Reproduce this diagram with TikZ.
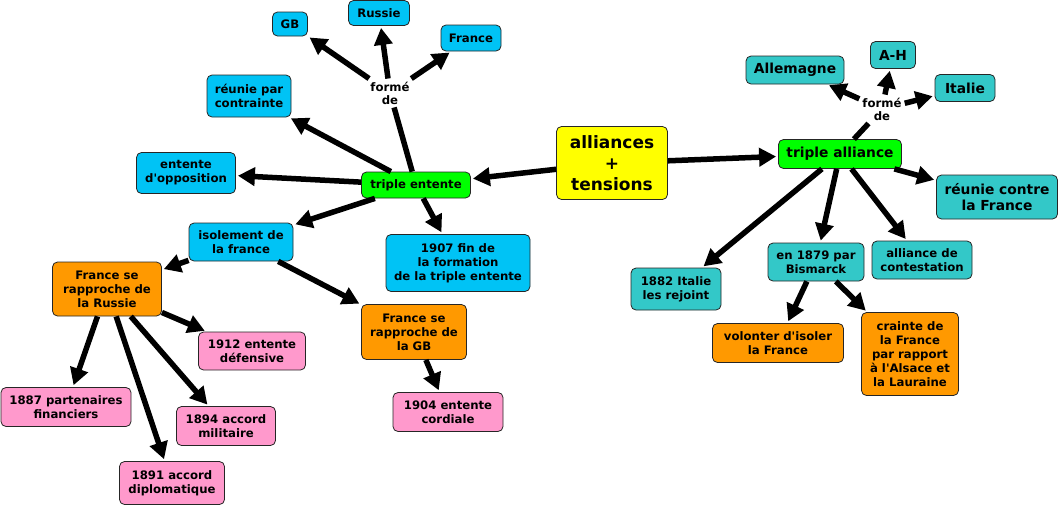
\documentclass[tikz,border=0pt]{standalone}
\usepackage{fontspec}
\setmainfont{DejaVu Sans}[Ligatures=TeXOff]
\usetikzlibrary{arrows.meta}
\definecolor{cblue}{RGB}{0,195,245}
\definecolor{cteal}{RGB}{51,200,200}
\definecolor{cgreen}{RGB}{0,255,0}
\definecolor{cyellow}{RGB}{255,255,0}
\definecolor{corange}{RGB}{255,153,0}
\definecolor{cpink}{RGB}{255,153,204}
\tikzset{
  box/.style={draw=black!85, line width=0.8pt, rounded corners=5pt, align=center,
    inner sep=1pt, font=\fontsize{11.7}{14}\selectfont\bfseries},
  big/.style={font=\fontsize{13.8}{16.5}\selectfont\bfseries},
  bl/.style={box, fill=cblue},
  tl/.style={box, fill=cteal},
  gr/.style={box, fill=cgreen},
  orr/.style={box, fill=corange},
  pk/.style={box, fill=cpink},
  lbl/.style={align=center, inner sep=3pt, font=\fontsize{11.7}{13}\selectfont\bfseries},
  arr/.style={line width=5.5pt, -{Triangle[length=17pt,width=18pt]}, shorten >=2pt},
  ln/.style={line width=5.5pt},
}
\begin{document}
\begin{tikzpicture}[x=1pt,y=-1pt]
\useasboundingbox (0,0) rectangle (1061,507);
% center
\node[box, fill=cyellow, minimum width=111pt, minimum height=73pt, font=\fontsize{17}{21}\selectfont\bfseries] (at) at (612,163) {alliances\\+\\tensions};
% left part
\node[gr, minimum width=109pt, minimum height=26pt] (te) at (416,185) {triple entente};
\node[bl, minimum width=35pt, minimum height=24pt] (gb) at (290,24) {GB};
\node[bl, minimum width=61pt, minimum height=25pt] (russie) at (379,13) {Russie};
\node[bl, minimum width=60pt, minimum height=26pt] (francetop) at (471,38) {France};
\node[lbl] (forme1) at (390,93) {formé\\de};
\node[bl, minimum width=84pt, minimum height=42pt] (reunie) at (249,96) {réunie par\\contrainte};
\node[bl, minimum width=99pt, minimum height=41pt] (opposition) at (186,173) {entente\\d'opposition};
\node[bl, minimum width=104pt, minimum height=38pt] (isolement) at (241,242) {isolement de\\la france};
\node[bl, minimum width=144pt, minimum height=57pt] (f1907) at (458,263) {1907 fin de\\la formation\\de la triple entente};
\node[orr, minimum width=109pt, minimum height=54pt] (frrussie) at (107,289) {France se\\rapproche de\\la Russie};
\node[orr, minimum width=105pt, minimum height=55pt] (frgb) at (414,332) {France se\\rapproche de\\la GB};
\node[pk, minimum width=107pt, minimum height=38pt] (e1912) at (252,351) {1912 entente\\défensive};
\node[pk, minimum width=130pt, minimum height=39pt] (p1887) at (66,407) {1887 partenaires\\financiers};
\node[pk, minimum width=99pt, minimum height=39pt] (a1894) at (226,426) {1894 accord\\militaire};
\node[pk, minimum width=105pt, minimum height=43pt] (a1891) at (172,483) {1891 accord\\diplomatique};
\node[pk, minimum width=110pt, minimum height=39pt] (c1904) at (448,412) {1904 entente\\cordiale};
% right part
\node[gr, big, minimum width=123pt, minimum height=29pt] (ta) at (840,154) {triple alliance};
\node[tl, big, minimum width=98pt, minimum height=28pt] (allemagne) at (795,70) {Allemagne};
\node[tl, big, minimum width=45pt, minimum height=27pt] (ah) at (893,55) {A-H};
\node[tl, big, minimum width=60pt, minimum height=27pt] (italie) at (965,88) {Italie};
\node[lbl] (forme2) at (882,109) {formé\\de};
\node[tl, big, minimum width=121pt, minimum height=44pt] (reuniecontre) at (997,197) {réunie contre\\la France};
\node[tl, minimum width=90pt, minimum height=42pt] (i1882) at (676,289) {1882 Italie\\les rejoint};
\node[tl, minimum width=96pt, minimum height=38pt] (bismarck) at (816,262) {en 1879 par\\Bismarck};
\node[tl, minimum width=100pt, minimum height=38pt] (contestation) at (922,260) {alliance de\\contestation};
\node[orr, minimum width=131pt, minimum height=39pt] (volonter) at (778,343) {volonter d'isoler\\la France};
\node[orr, minimum width=97pt, minimum height=83pt] (crainte) at (910,354) {crainte de\\la France\\par rapport\\à l'Alsace et\\la Lauraine};
% connectors
\draw[arr] (at) -- (te);
\draw[arr] (at) -- (ta);
\draw[ln] (te) -- (forme1);
\draw[arr] (forme1) -- (gb);
\draw[arr] (forme1) -- (russie);
\draw[arr] (forme1) -- (francetop);
\draw[arr] (te) -- (reunie);
\draw[arr] (te) -- (opposition);
\draw[arr] (te) -- (isolement);
\draw[arr] (te) -- (f1907);
\draw[arr] (isolement) -- (frrussie);
\draw[arr] (isolement) -- (frgb);
\draw[arr] (frrussie) -- (e1912);
\draw[arr] (frrussie) -- (p1887);
\draw[arr] (frrussie) -- (a1894);
\draw[arr] (frrussie) -- (a1891);
\draw[arr] (frgb) -- (c1904);
\draw[ln] (ta) -- (forme2);
\draw[arr] (forme2) -- (allemagne);
\draw[arr] (forme2) -- (ah);
\draw[arr] (forme2) -- (italie);
\draw[arr] (ta) -- (reuniecontre);
\draw[arr] (ta) -- (i1882);
\draw[arr] (ta) -- (bismarck);
\draw[arr] (ta) -- (contestation);
\draw[arr] (bismarck) -- (volonter);
\draw[arr] (bismarck) -- (crainte);
\end{tikzpicture}
\end{document}
